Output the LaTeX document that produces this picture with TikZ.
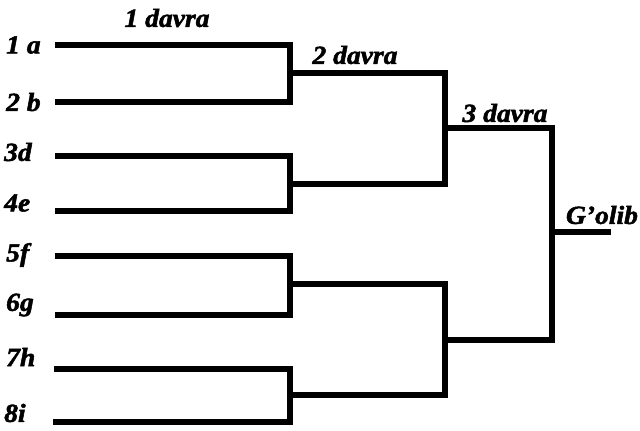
\documentclass[tikz,border=0pt]{standalone}
\usepackage{fontspec}
\newfontfamily\labfont{Liberation Serif}[FakeStretch=1.06,BoldItalicFeatures={FakeBold=2}]
\begin{document}
\begin{tikzpicture}[x=1pt,y=-1pt,
  br/.style={line width=6pt,line join=miter,line cap=butt},
  lab/.style={font=\labfont\fontsize{26}{28}\selectfont\bfseries\itshape,inner sep=0pt},
  lbl/.style={lab,anchor=west}]
\useasboundingbox (0,0) rectangle (640,431);
% player labels
\node[lbl] (l1) at (6,45) {1 a};
\node[lbl] (l2) at (6,102) {2 b};
\node[lbl] (l3) at (4,152) {3d};
\node[lbl] (l4) at (4,203) {4e};
\node[lbl] (l5) at (6,255) {5f};
\node[lbl] (l6) at (6,305) {6g};
\node[lbl] (l7) at (6,357) {7h};
\node[lbl] (l8) at (4,413) {8i};
% round labels
\node[lab] (d1) at (167,18) {1 davra};
\node[lab] (d2) at (355,55) {2 davra};
\node[lab] (d3) at (505,113) {3 davra};
\node[lab] (g) at (602,215) {G’olib};
% coordinates
\coordinate (s1) at (55,45);
\coordinate (s2) at (55,102);
\coordinate (s3) at (55,156);
\coordinate (s4) at (55,211);
\coordinate (s5) at (55,256);
\coordinate (s6) at (55,315);
\coordinate (s7) at (54,369);
\coordinate (s8) at (53,422);
\coordinate (m12) at (290,73);
\coordinate (m34) at (290,184);
\coordinate (m56) at (290,284);
\coordinate (m78) at (290,395);
\coordinate (n1) at (445,128);
\coordinate (n2) at (445,340);
\coordinate (w) at (552,232);
\coordinate (we) at (611,232);
% brackets
\draw[br] (s1) -| (m12) |- (s2);
\draw[br] (s3) -| (m34) |- (s4);
\draw[br] (s5) -| (m56) |- (s6);
\draw[br] (s7) -| (m78) |- (s8);
\draw[br] (m12) -| (n1) |- (m34);
\draw[br] (m56) -| (n2) |- (m78);
\draw[br] (n1) -| (w) |- (n2);
\draw[br] (w) -- (we);
\end{tikzpicture}
\end{document}
